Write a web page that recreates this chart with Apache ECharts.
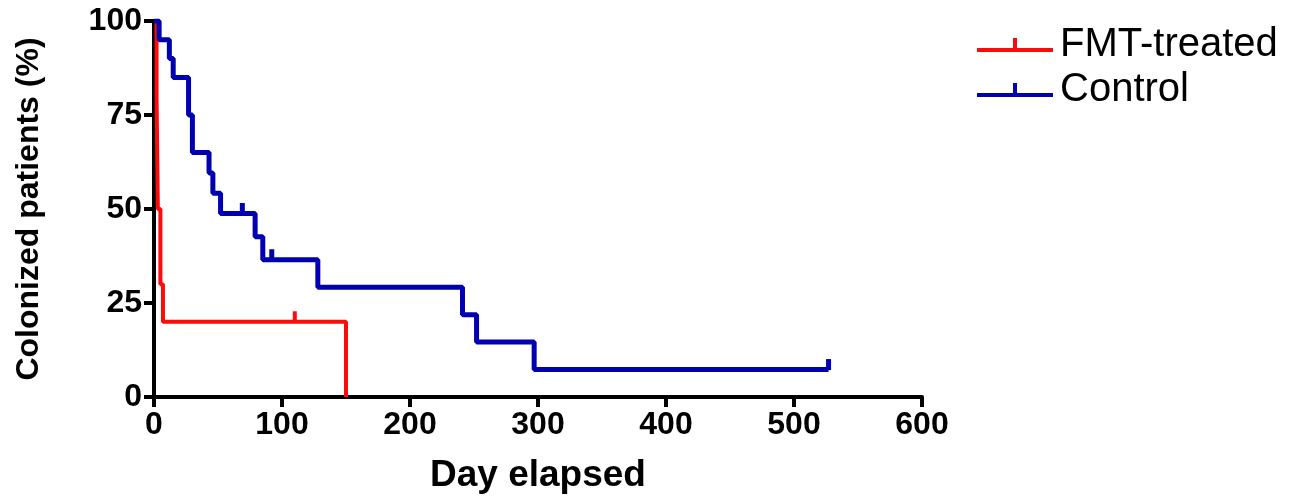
<!DOCTYPE html>
<html>
<head>
<meta charset="utf-8">
<script src="https://cdn.jsdelivr.net/npm/echarts@6/dist/echarts.min.js"></script>
<style>
    html, body { margin: 0; padding: 0; background: #fff; }
    #chart { width: 1291px; height: 499px; }
</style>
</head>
<body>
<div id="chart"></div>
<script>
// Kaplan-Meier style step curves, [day, percent]
const fmt_steps = [[0, 100], [2, 80], [3, 50], [5, 30], [7, 20], [150, 20], [150, 0]];
const control_steps = [[0, 100], [4, 95], [12, 90], [15, 85], [27, 75], [30, 65], [43, 59.6], [46, 54.2],
    [52, 48.8], [79, 42.6], [85, 36.5], [128, 29.2], [241, 21.9], [252, 14.6], [297, 7.3], [527, 7.3]];
// censored observations
const fmt_censored = [[110, 20]];
const control_censored = [[69, 48.8], [92, 36.5], [527, 7.3]];

const x_ticks = [0, 100, 200, 300, 400, 500, 600];
const y_ticks = [0, 25, 50, 75, 100];

const red = '#ff0a0a';
const blue = '#0000b0';
const font = 'Liberation Sans, Arial, sans-serif';

let chart = echarts.init(document.getElementById('chart'));

let axis_common = {
    axisLine: {show: true, lineStyle: {color: '#000', width: 4}},
    axisTick: {show: true, inside: false, length: 10, lineStyle: {color: '#000', width: 4}},
    splitLine: {show: false},
    axisLabel: {color: '#000', fontFamily: font, fontWeight: 'bold', fontSize: 32}
};

let censor_series = function (name, color, width, data) {
    return {
        name: name,
        type: 'scatter',
        data: data,
        symbol: 'rect',
        symbolSize: [width, 11],
        symbolOffset: [0, -5],
        itemStyle: {color: color, opacity: 1},
        z: 4,
        silent: true
    };
};

let option = {
    animation: false,
    backgroundColor: '#fff',
    grid: {left: 154, right: 369, top: 21, bottom: 96},
    legend: {
        left: 972,
        top: 20,
        orient: 'vertical',
        itemWidth: 76,
        itemHeight: 14,
        itemGap: 5,
        icon: 'path://M0,10 L76,10 L76,14 L0,14 Z M36,0 L40,0 L40,11 L36,11 Z',
        textStyle: {color: '#000', fontFamily: font, fontSize: 40, padding: [0, 0, 0, 2]},
        data: ['FMT-treated', 'Control']
    },
    xAxis: Object.assign({}, axis_common, {
        type: 'value',
        min: x_ticks[0],
        max: x_ticks[x_ticks.length - 1],
        interval: 100,
        name: 'Day elapsed',
        nameLocation: 'middle',
        nameGap: 60,
        nameTextStyle: {color: '#000', fontFamily: font, fontWeight: 'bold', fontSize: 37},
        axisLabel: Object.assign({}, axis_common.axisLabel, {margin: 12})
    }),
    yAxis: Object.assign({}, axis_common, {
        type: 'value',
        min: y_ticks[0],
        max: y_ticks[y_ticks.length - 1],
        interval: 25,
        name: 'Colonized patients (%)',
        nameLocation: 'middle',
        nameGap: 109,
        nameTextStyle: {color: '#000', fontFamily: font, fontWeight: 'bold', fontSize: 32},
        axisLabel: Object.assign({}, axis_common.axisLabel, {margin: 12})
    }),
    series: [
        {
            name: 'FMT-treated',
            type: 'line',
            step: 'end',
            data: fmt_steps,
            showSymbol: false,
            lineStyle: {color: red, width: 4},
            itemStyle: {color: red},
            z: 2
        },
        {
            name: 'Control',
            type: 'line',
            step: 'end',
            data: control_steps,
            showSymbol: false,
            lineStyle: {color: blue, width: 5},
            itemStyle: {color: blue},
            z: 3
        },
        censor_series('FMT-treated', red, 4, fmt_censored),
        censor_series('Control', blue, 5, control_censored)
    ]
};

chart.setOption(option);
</script>
</body>
</html>
